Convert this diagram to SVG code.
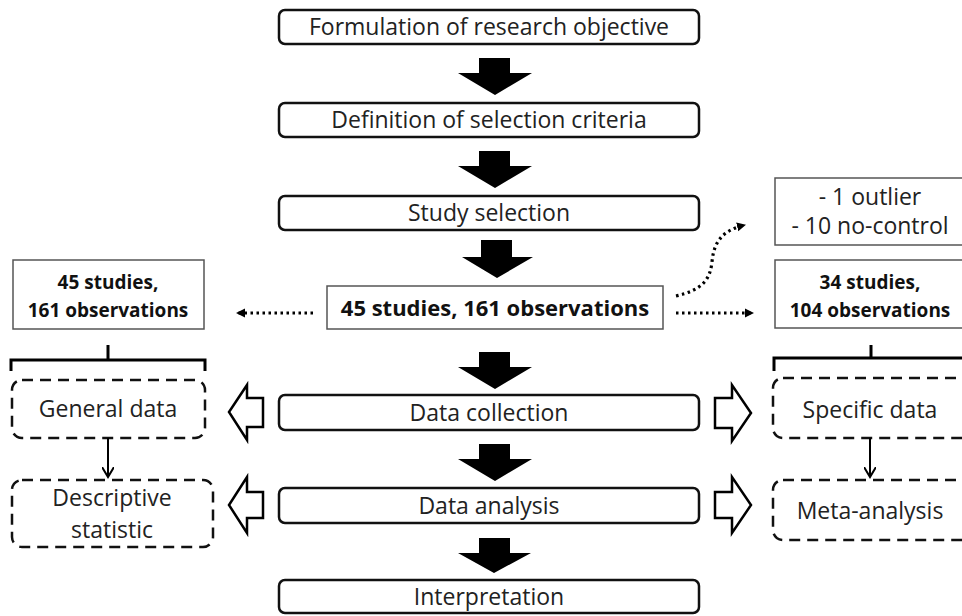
<svg xmlns="http://www.w3.org/2000/svg" width="962" height="616" viewBox="0 0 962 616">
<style>
.main{fill:#fff;stroke:#111;stroke-width:2.5}
.plain{fill:#fff;stroke:#555;stroke-width:1.5}
.dash{fill:#fff;stroke:#111;stroke-width:2.5;stroke-dasharray:11,7}
.t{font-family:"Open Sans","Noto Sans",sans-serif;font-size:23px;fill:#222;text-anchor:middle}
.b{font-family:"Open Sans","Noto Sans",sans-serif;font-weight:bold;fill:#111;text-anchor:middle}
.blk{fill:#000}
.hol{fill:#fff;stroke:#000;stroke-width:2.5;stroke-linejoin:miter}
.dot{fill:none;stroke:#000;stroke-width:3.2;stroke-dasharray:2.5,3.5}
.br{fill:none;stroke:#000;stroke-width:3}
.ln{fill:none;stroke:#000;stroke-width:2}
</style>
<defs>
<marker id="ah" markerWidth="10" markerHeight="10" refX="8" refY="5" orient="auto" markerUnits="userSpaceOnUse">
<path d="M0,0.5 L9,5 L0,9.5 Z" fill="#000"/>
</marker>
<marker id="ah2" markerWidth="12" markerHeight="12" refX="10" refY="6" orient="auto" markerUnits="userSpaceOnUse">
<path d="M0,0 L10,6 L0,12" fill="none" stroke="#000" stroke-width="2"/>
</marker>
</defs>

<g id="n1"><rect class="main" x="279" y="10" width="420" height="34" rx="6"/><text class="t" x="489" y="35">Formulation of research objective</text></g>
<g id="n2"><rect class="main" x="279" y="103" width="420" height="34" rx="6"/><text class="t" x="489" y="128">Definition of selection criteria</text></g>
<g id="n3"><rect class="main" x="279" y="196" width="420" height="34" rx="6"/><text class="t" x="489" y="221">Study selection</text></g>
<g id="n4"><rect class="plain" x="327" y="286" width="336" height="43"/><text class="b" x="495" y="316" font-size="22">45 studies, 161 observations</text></g>
<g id="n5"><rect class="main" x="279" y="395" width="420" height="35" rx="6"/><text class="t" x="489" y="421">Data collection</text></g>
<g id="n6"><rect class="main" x="279" y="488" width="420" height="35" rx="6"/><text class="t" x="489" y="514">Data analysis</text></g>
<g id="n7"><rect class="main" x="279" y="580" width="420" height="33" rx="6"/><text class="t" x="489" y="605">Interpretation</text></g>

<g id="l1"><rect class="plain" x="13" y="260" width="191" height="69"/><text class="b" x="108" y="289" font-size="19">45 studies,</text><text class="b" x="108" y="317" font-size="19">161 observations</text></g>
<g id="l2"><rect class="dash" x="12" y="380" width="193" height="58" rx="10"/><text class="t" x="108" y="417">General data</text></g>
<g id="l3"><rect class="dash" x="12" y="480" width="201" height="67" rx="10"/><text class="t" x="112" y="506">Descriptive</text><text class="t" x="112" y="538">statistic</text></g>

<g id="r0"><rect class="plain" x="775" y="178" width="195" height="67"/><text class="t" x="870" y="205" font-size="18">- 1 outlier</text><text class="t" x="870" y="234" font-size="18">- 10 no-control</text></g>
<g id="r1"><rect class="plain" x="775" y="260" width="195" height="68"/><text class="b" x="870" y="289" font-size="19">34 studies,</text><text class="b" x="870" y="317" font-size="19">104 observations</text></g>
<g id="r2"><rect class="dash" x="773" y="378" width="200" height="60" rx="10"/><text class="t" x="870" y="418">Specific data</text></g>
<g id="r3"><rect class="dash" x="773" y="480" width="200" height="60" rx="10"/><text class="t" x="870" y="519">Meta-analysis</text></g>

<g id="connectors">
<path class="blk" d="M479,58 H510 V73 H532 L495,95 L458,73 H479 Z"/>
<path class="blk" d="M479,151 H510 V166 H532 L495,188 L458,166 H479 Z"/>
<path class="blk" d="M481,240 H512 V257 H533 L497,278 L462,257 H481 Z"/>
<path class="blk" d="M479,352 H510 V367 H532 L495,389 L458,367 H479 Z"/>
<path class="blk" d="M479,444 H510 V459 H532 L495,481 L458,459 H479 Z"/>
<path class="blk" d="M479,538 H510 V553 H531 L494,573 L458,553 H479 Z"/>

<path class="hol" d="M263,398 H247 V385 L229,412 L247,440 V427 H263 Z"/>
<path class="hol" d="M263,492 H247 V477 L229,505 L247,533 V518 H263 Z"/>
<path class="hol" d="M715,398 H732 V385 L751,413 L732,441 V428 H715 Z"/>
<path class="hol" d="M715,492 H732 V477 L751,505 L732,533 V518 H715 Z"/>

<path class="dot" d="M313,313 H237" marker-end="url(#ah)"/>
<path class="dot" d="M676,313 H753" marker-end="url(#ah)"/>
<path class="dot" d="M676,296 C702,290 710,280 712,262 C714,240 724,230 745,225" marker-end="url(#ah)"/>

<path class="br" d="M11,371 V360 H205 V371 M108,360 V345"/>
<path class="br" d="M774,371 V358 H962 M871,358 V345"/>

<path class="ln" d="M108,438 V477" marker-end="url(#ah2)"/>
<path class="ln" d="M870,438 V477" marker-end="url(#ah2)"/>
</g>
</svg>
